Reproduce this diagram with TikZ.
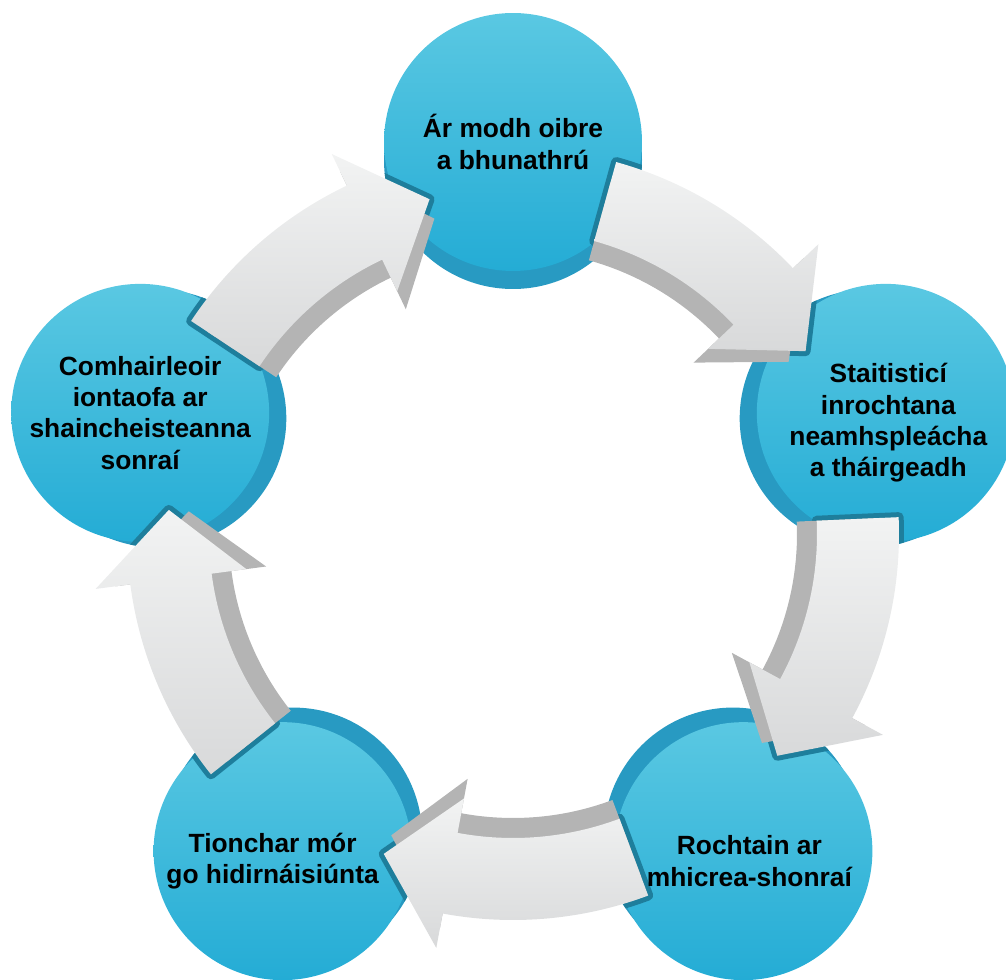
\documentclass[tikz,border=0pt]{standalone}
\usepackage{fontspec}
\setmainfont{Liberation Sans}

\definecolor{facetop}{RGB}{90,200,226}
\definecolor{facebot}{RGB}{36,172,213}
\definecolor{rimblue}{RGB}{40,154,194}
\definecolor{edgeteal}{RGB}{30,126,156}
\definecolor{arrowtop}{RGB}{242,243,243}
\definecolor{arrowbot}{RGB}{216,217,218}
\definecolor{arrowside}{RGB}{180,180,180}

% one bent block arrow: #1 angle of the circle it leaves, #2 mid radius, #3 style
\newcommand{\cyclearrow}[3]{%
  \path[#3] (#1-15.5:#2+41) arc[start angle=#1-15.5, end angle=#1-46.5, radius=#2+41]
    -- (#1-46.5:#2+76) -- (#1-58:#2) -- (#1-46.5:#2-76) -- (#1-46.5:#2-41)
    arc[start angle=#1-46.5, end angle=#1-15.5, radius=#2-41] -- cycle;
}

\begin{document}
\begin{tikzpicture}[x=0.02cm, y=0.02cm,
    bubble/.style={circle, minimum size=5.16cm, inner sep=0pt,
      top color=facetop, bottom color=facebot},
    bubbletext/.style={align=center, inner sep=0pt,
      font=\fontsize{15}{17.8}\selectfont\bfseries},
    arrowedge/.style={fill=edgeteal, draw=edgeteal, line width=0.2cm, line join=round}]

    \def \R {392}    % centres of the circles
    \def \rc {129}   % radius of a circle
    \def \arad {345} % mid radius of the arrows
    \def \depth {18}

    \useasboundingbox (-513,-445) rectangle (493,534);
    \clip (-513,-445) rectangle (493,534);

    \foreach \a in {90,18,-54,-126,162}
    {
        \fill[rimblue] (\a:\R-\depth) circle (\rc);
    }

    \foreach \a/\id in {90/method, 18/stats, -54/micro, -126/impact, 162/advisor}
    {
        \node[bubble] (\id) at (\a:\R) {};
    }

    % dark edge where an arrow lies on a circle
    \begin{scope}
        \clip \foreach \a in {90,18,-54,-126,162} {(\a:\R) circle (\rc) (\a:\R-\depth) circle (\rc)};
        \foreach \a in {90,18,-54,-126,162}
        {
            \cyclearrow{\a}{\arad}{arrowedge}
        }
    \end{scope}

    \foreach \a in {90,18,-54,-126,162}
    {
        \cyclearrow{\a}{\arad-20}{fill=arrowside}
        \cyclearrow{\a}{\arad}{top color=arrowtop, bottom color=arrowbot}
    }

    \foreach \id/\dx/\dy/\txt in {method/0/0/{Ár modh oibre\\a bhunathrú},
        stats/0.05/-0.2/{Staitisticí\\inrochtana\\neamhspleácha\\a tháirgeadh},
        micro/0.12/-0.2/{Rochtain ar\\mhicrea-shonraí},
        impact/-0.2/-0.2/{Tionchar mór\\go hidirnáisiúnta},
        advisor/0/0/{Comhairleoir\\iontaofa ar\\shaincheisteanna\\sonraí}}
    {
        \node[bubbletext] (\id text) at ([xshift=\dx cm, yshift=\dy cm]\id.center) {\txt};
    }

\end{tikzpicture}
\end{document}
